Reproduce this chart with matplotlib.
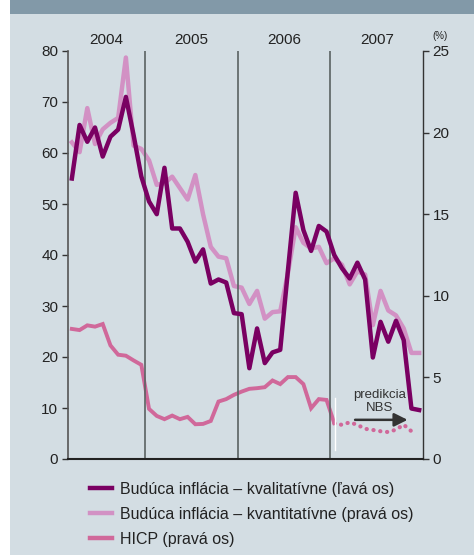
import numpy as np
import matplotlib
matplotlib.use("Agg")
import matplotlib.pyplot as plt
from matplotlib.patches import Rectangle
from matplotlib.transforms import blended_transform_factory

plt.rcParams["font.family"] = ["Liberation Sans", "DejaVu Sans"]

# months: 2.5 = March 2004 (mid-month), 47.5 = December 2007
months = np.arange(2.5, 48.0, 1.0)

# Budúca inflácia - kvalitatívne (left axis)
kval = [55.0, 65.5, 62.2, 65.0, 59.3, 63.2, 64.6, 71.0, 63.5, 55.4,
        50.5, 48.0, 57.1, 45.2, 45.2, 42.6, 38.7, 41.1, 34.4, 35.2,
        34.6, 28.6, 28.4, 17.8, 25.6, 18.8, 20.9, 21.4, 37.0, 52.2,
        44.9, 40.8, 45.7, 44.6, 40.0, 37.4, 35.4, 38.5, 35.2, 19.9,
        26.9, 23.0, 27.1, 23.3, 9.9, 9.6]

# Budúca inflácia - kvantitatívne (right axis, %)
kvant = [19.4, 18.8, 21.5, 19.3, 20.2, 20.6, 20.9, 24.6, 19.2, 19.0,
         18.3, 16.8, 16.9, 17.3, 16.6, 15.9, 17.4, 15.0, 13.0, 12.4,
         12.3, 10.6, 10.5, 9.5, 10.3, 8.6, 9.0, 9.05, 11.4, 14.2,
         13.25, 12.9, 13.0, 12.0, 12.3, 11.9, 10.7, 11.5, 11.3, 8.2,
         10.3, 9.1, 8.8, 8.0, 6.5, 6.5]

# HICP actual (right axis, %), March 2004 - January 2007
hicp = [7.97, 7.9, 8.19, 8.11, 8.27, 6.96, 6.39, 6.33, 6.04, 5.77,
        3.07, 2.64, 2.44, 2.66, 2.44, 2.58, 2.13, 2.15, 2.33, 3.52,
        3.67, 3.93, 4.13, 4.30, 4.34, 4.40, 4.81, 4.59, 5.02, 5.02,
        4.59, 3.11, 3.67, 3.62, 2.2]

# HICP prediction NBS (right axis, %), January - November 2007
pred = [2.2, 2.09, 2.25, 2.09, 1.85, 1.78, 1.70, 1.65, 1.80, 2.10, 1.70]

years = ["2004", "2005", "2006", "2007"]
year_centers = [7, 18, 30, 42]
year_bounds = [12, 24, 36]

c_dark = "#7a0062"
c_light = "#d291c4"
c_hicp = "#d0689a"
bg = "#d3dde3"

fig = plt.figure(figsize=(4.74, 5.55), dpi=100)
fig.patch.set_facecolor("white")
fig.patches.append(Rectangle((10 / 474, 0), 1 - 10 / 474, 1, transform=fig.transFigure,
                             facecolor=bg, edgecolor="none", zorder=-2))
fig.patches.append(Rectangle((10 / 474, 1 - 14 / 555), 1 - 10 / 474, 14 / 555,
                             transform=fig.transFigure, facecolor="#8299a8",
                             edgecolor="none", zorder=-1))

ax = fig.add_axes([68 / 474, 96 / 555, 355 / 474, 408 / 555])
ax2 = ax.twinx()
ax.set_zorder(ax2.get_zorder() + 1)
ax.patch.set_visible(False)
ax2.patch.set_visible(False)

ax2.plot(months[:len(hicp)], hicp, color=c_hicp, lw=2.8, solid_joinstyle="miter")
pm = months[len(hicp) - 1:len(hicp) - 1 + len(pred)]
ax2.plot(pm, pred, color=c_hicp, lw=3.0, linestyle=(0, (0.05, 1.6)),
         dash_capstyle="round")
ax2.plot(months, kvant, color=c_light, lw=3.2)
ax.plot(months, kval, color=c_dark, lw=3.2)

for b in year_bounds:
    ax.axvline(b, color="#5a6262", lw=1.2, zorder=0)
ax.plot([36.6, 36.6], [1.8, 12], color="white", lw=1.0, zorder=1)

ax.set_xlim(2, 48)
ax.set_ylim(0, 80)
ax2.set_ylim(0, 25)
ax.set_yticks(range(0, 81, 10))
ax2.set_yticks(range(0, 26, 5))
ax.set_xticks([])

for a in (ax, ax2):
    a.spines["top"].set_visible(False)
    a.tick_params(axis="y", labelsize=11, length=4, width=1, colors="#333333",
                  labelcolor="#222222", pad=3)
ax.spines["left"].set_color("#555555")
ax.spines["left"].set_linewidth(1.2)
ax2.spines["left"].set_visible(False)
ax2.spines["right"].set_color("#333333")
ax2.spines["right"].set_linewidth(1.0)
ax.spines["right"].set_visible(False)
ax.spines["bottom"].set_color("#222222")
ax.spines["bottom"].set_linewidth(1.5)
ax2.spines["bottom"].set_visible(False)

tr = blended_transform_factory(ax.transData, fig.transFigure)
for yl, xc in zip(years, year_centers):
    fig.text(xc, 1 - 40 / 555, yl, transform=tr, ha="center", va="center",
             fontsize=11, color="#222222")
fig.text(440 / 474, 1 - 36 / 555, "(%)", ha="center", va="center", fontsize=7,
         color="#222222")

ax2.annotate("", xy=(46.0, 2.4), xytext=(39.2, 2.4),
             arrowprops=dict(arrowstyle="-|>,head_length=0.8,head_width=0.4",
                             color="#333333", lw=1.8, shrinkA=0, shrinkB=0))
ax2.text(42.4, 2.75, "predikcia\nNBS", ha="center", va="bottom", fontsize=9.5,
         color="#333333", linespacing=1.15)

h1, = ax.plot([], [], color=c_dark, lw=3.2)
h2, = ax.plot([], [], color=c_light, lw=3.2)
h3, = ax.plot([], [], color=c_hicp, lw=3.2)
fig.legend([h1, h2, h3],
           ["Budúca inflácia – kvalitatívne (ľavá os)",
            "Budúca inflácia – kvantitatívne (pravá os)",
            "HICP (pravá os)"],
           loc="upper left", bbox_to_anchor=(90 / 474, 1 - 482 / 555),
           frameon=False, fontsize=11.5, handlelength=1.4, handletextpad=0.45,
           labelspacing=0.62, borderpad=0, borderaxespad=0, labelcolor="#222222")

fig.savefig("out.png", dpi=100, facecolor=fig.get_facecolor())
